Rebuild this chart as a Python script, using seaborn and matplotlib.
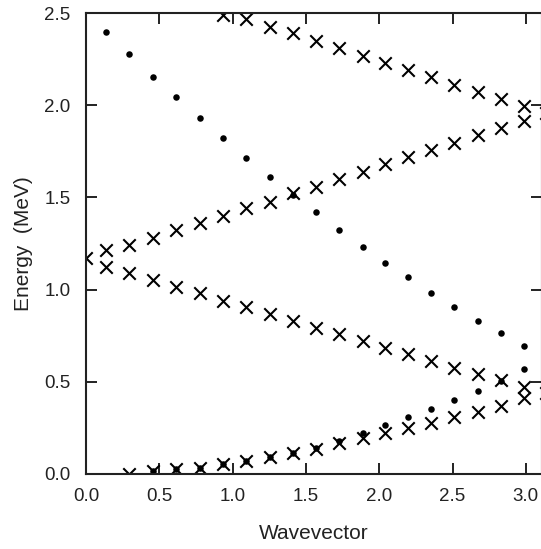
import pandas as pd
import seaborn as sns
import matplotlib.pyplot as plt

# wavevector grid
q = [0.135, 0.295, 0.454, 0.616, 0.776, 0.936, 1.094, 1.253, 1.41, 1.566,
     1.726, 1.886, 2.041, 2.196, 2.356, 2.509, 2.673, 2.829, 2.988]

# crosses: upper falling branch (starts at q=0.936, plus a clipped one at the edge)
top_q = [0.936, 1.094, 1.253, 1.41, 1.566, 1.726, 1.886, 2.041, 2.196, 2.356,
         2.509, 2.673, 2.829, 2.988, 3.14]
top_e = [2.49, 2.467, 2.426, 2.39, 2.348, 2.309, 2.268, 2.231, 2.191, 2.151,
         2.11, 2.073, 2.034, 1.995, 1.96]

# crosses: rising branch from 1.17
rise_q = [0.0] + q
rise_e = [1.17, 1.215, 1.242, 1.281, 1.323, 1.36, 1.40, 1.44, 1.477, 1.522,
          1.558, 1.598, 1.639, 1.679, 1.721, 1.757, 1.797, 1.838, 1.875, 1.915]

# crosses: middle falling branch
mid_q = q + [3.14]
mid_e = [1.124, 1.088, 1.052, 1.016, 0.98, 0.94, 0.903, 0.866, 0.83, 0.794,
         0.758, 0.721, 0.685, 0.649, 0.614, 0.577, 0.542, 0.51, 0.473, 0.44]

# crosses: acoustic branch near zero
low_q = q[1:]
low_e = [0.0, 0.015, 0.025, 0.035, 0.055, 0.073, 0.09, 0.112, 0.136, 0.166,
         0.193, 0.22, 0.248, 0.278, 0.307, 0.338, 0.369, 0.41]

# dots: falling branch
dot_hi_q = q
dot_hi_e = [2.395, 2.276, 2.155, 2.043, 1.931, 1.824, 1.715, 1.612, 1.515, 1.419,
            1.323, 1.233, 1.146, 1.070, 0.983, 0.907, 0.831, 0.763, 0.694]

# dots: rising branch
dot_lo_q = q[2:]
dot_lo_e = [0.016, 0.025, 0.035, 0.055, 0.073, 0.09, 0.116, 0.143, 0.181,
            0.224, 0.266, 0.307, 0.351, 0.401, 0.452, 0.505, 0.568]

crosses = pd.DataFrame({
    'Wavevector': top_q + rise_q + mid_q + low_q,
    'Energy': top_e + rise_e + mid_e + low_e,
})
dots = pd.DataFrame({
    'Wavevector': dot_hi_q + dot_lo_q,
    'Energy': dot_hi_e + dot_lo_e,
})

sns.set_style('ticks')
plt.rcParams['font.family'] = ['Liberation Sans', 'DejaVu Sans']

fig = plt.figure(figsize=(5.41, 5.49), dpi=100)
ax = fig.add_axes([86 / 541, 75 / 549, 456 / 541, 461 / 549])

sns.scatterplot(data=crosses, x='Wavevector', y='Energy', marker='x', s=80,
                color='black', linewidth=1.5, ax=ax)
sns.scatterplot(data=dots, x='Wavevector', y='Energy', marker='o', s=22,
                color='black', edgecolor='black', linewidth=0, ax=ax)

ax.set_xlim(0, 3.11)
ax.set_ylim(0, 2.5)
ax.set_xticks([0.0, 0.5, 1.0, 1.5, 2.0, 2.5, 3.0])
ax.set_yticks([0.0, 0.5, 1.0, 1.5, 2.0, 2.5])
ax.set_xticklabels(['0.0', '0.5', '1.0', '1.5', '2.0', '2.5', '3.0'])
ax.set_yticklabels(['0.0', '0.5', '1.0', '1.5', '2.0', '2.5'])
ax.tick_params(direction='in', length=8, width=1.4, labelsize=13.5,
               top=True, right=True, colors='#222222')
ax.tick_params(axis='x', pad=10)
ax.tick_params(axis='y', pad=11)
for sp in ax.spines.values():
    sp.set_linewidth(1.5)
    sp.set_color('#222222')

ax.set_xlabel('Wavevector', fontsize=15, labelpad=14, color='#222222')
ax.set_ylabel('Energy  (MeV)', fontsize=15, labelpad=8, color='#222222')

fig.savefig('out.png', dpi=100)
